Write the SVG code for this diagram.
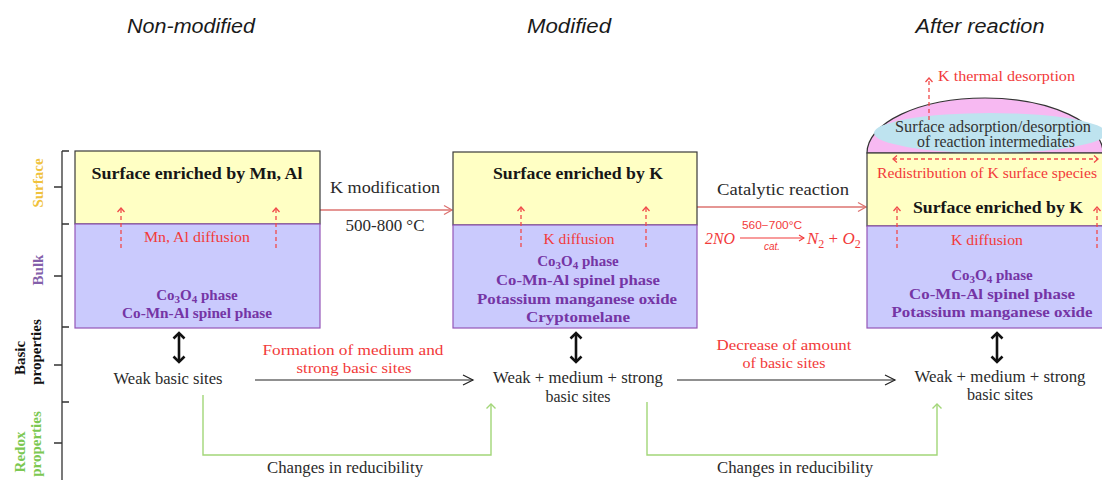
<svg xmlns="http://www.w3.org/2000/svg" width="1102" height="480" viewBox="0 0 1102 480">
  <style>
    .serif { font-family: "Liberation Serif", "DejaVu Serif", serif; }
    .title { font-family: "Liberation Sans", "Open Sans", sans-serif; font-style: italic; font-size: 20px; fill: #1a1a1a; }
    .head { font-weight: bold; font-size: 17px; fill: #161616; }
    .phase { font-weight: bold; font-size: 15px; fill: #7535A5; }
    .red { fill: #F23A3A; font-size: 15px; }
    .txt { fill: #2a2a2a; font-size: 16px; }
    .surf { fill: #FFFFC4; stroke: #3a3a3a; stroke-width: 1.2; }
    .bulk { fill: #CACAFD; stroke: #9455B8; stroke-width: 1.2; }
    .dash { stroke: #F04A4A; stroke-width: 1.3; stroke-dasharray: 4 3; fill: none; }
    .flow { stroke: #DC7370; stroke-width: 1.3; fill: none; }
    .thin { stroke: #222; stroke-width: 1.2; fill: none; }
    .bold { stroke: #111; stroke-width: 2.6; fill: none; }
    .green { stroke: #A2D678; stroke-width: 1.4; fill: none; }
    .axis { stroke: #333; stroke-width: 1.3; fill: none; }
    .side { font-size: 15px; font-weight: bold; }
  </style>
  <defs>
    <marker id="mDash" markerUnits="userSpaceOnUse" markerWidth="10" markerHeight="10" refX="5" refY="5" orient="auto-start-reverse" viewBox="0 0 10 10">
      <path d="M1,1.5 L5,5 L1,8.5" fill="none" stroke="#F04A4A" stroke-width="1.3"/>
    </marker>
    <marker id="mFlow" markerUnits="userSpaceOnUse" markerWidth="12" markerHeight="12" refX="10" refY="6" orient="auto" viewBox="0 0 12 12">
      <path d="M2,1.5 L10,6 L2,10.5" fill="none" stroke="#DC7370" stroke-width="1.3"/>
    </marker>
    <marker id="mEq" markerUnits="userSpaceOnUse" markerWidth="8" markerHeight="8" refX="7" refY="4" orient="auto" viewBox="0 0 8 8">
      <path d="M2,1 L7,4 L2,7" fill="none" stroke="#F23A3A" stroke-width="1.1"/>
    </marker>
    <marker id="mThin" markerUnits="userSpaceOnUse" markerWidth="14" markerHeight="14" refX="12" refY="7" orient="auto" viewBox="0 0 14 14">
      <path d="M2,2 L12,7 L2,12" fill="none" stroke="#222" stroke-width="1.2"/>
    </marker>
    <marker id="mGreen" markerUnits="userSpaceOnUse" markerWidth="12" markerHeight="12" refX="6" refY="6" orient="auto" viewBox="0 0 12 12">
      <path d="M1.5,1.5 L6,6 L1.5,10.5" fill="none" stroke="#A2D678" stroke-width="1.4"/>
    </marker>
    <marker id="mBold" markerUnits="userSpaceOnUse" markerWidth="14" markerHeight="14" refX="7" refY="7" orient="auto-start-reverse" viewBox="0 0 14 14">
      <path d="M1.5,1.5 L7,7 L1.5,12.5" fill="none" stroke="#111" stroke-width="2.6"/>
    </marker>
  </defs>

  <!-- column titles -->
  <g id="titles">
    <text class="title" x="191" y="33" text-anchor="middle" textLength="128" lengthAdjust="spacingAndGlyphs">Non-modified</text>
    <text class="title" x="569" y="33" text-anchor="middle" textLength="84" lengthAdjust="spacingAndGlyphs">Modified</text>
    <text class="title" x="980" y="33" text-anchor="middle" textLength="129" lengthAdjust="spacingAndGlyphs">After reaction</text>
  </g>

  <!-- side scale with row labels -->
  <g id="axis">
    <path class="axis" d="M62,151 V480 M62,151 H69 M62,224 H69 M62,327 H69 M62,402 H69 M54,187 H62 M54,276 H62 M54,365 H62 M54,443 H62"/>
    <g class="serif">
      <text class="side" transform="translate(43,183) rotate(-90)" text-anchor="middle" fill="#F0C23C">Surface</text>
      <text class="side" transform="translate(43,270) rotate(-90)" text-anchor="middle" fill="#8460AA">Bulk</text>
      <text class="side" transform="translate(25,358) rotate(-90)" text-anchor="middle" fill="#111">Basic</text>
      <text class="side" transform="translate(41,352) rotate(-90)" text-anchor="middle" fill="#111">properties</text>
      <text class="side" transform="translate(25,452) rotate(-90)" text-anchor="middle" fill="#7CC852">Redox</text>
      <text class="side" transform="translate(41,444) rotate(-90)" text-anchor="middle" fill="#7CC852">properties</text>
    </g>
  </g>

  <!-- connectors -->
  <g id="connectors">
    <line class="flow" x1="320" y1="210" x2="452" y2="210" marker-end="url(#mFlow)"/>
    <line class="flow" x1="697" y1="207" x2="866" y2="207" marker-end="url(#mFlow)"/>
    <line class="thin" x1="255" y1="380" x2="473" y2="380" marker-end="url(#mThin)"/>
    <line class="thin" x1="677" y1="380" x2="895" y2="380" marker-end="url(#mThin)"/>
    <line class="bold" x1="179" y1="333" x2="179" y2="362" marker-start="url(#mBold)" marker-end="url(#mBold)"/>
    <line class="bold" x1="576" y1="333" x2="576" y2="362" marker-start="url(#mBold)" marker-end="url(#mBold)"/>
    <line class="bold" x1="997" y1="333" x2="997" y2="362" marker-start="url(#mBold)" marker-end="url(#mBold)"/>
    <polyline class="green" points="203,395 203,455 491,455 491,404" marker-end="url(#mGreen)"/>
    <polyline class="green" points="647,402 647,455 937,455 937,404" marker-end="url(#mGreen)"/>
  </g>

  <!-- connector labels -->
  <g id="connector-labels" class="serif">
    <text class="txt" x="385" y="193" text-anchor="middle" textLength="110" lengthAdjust="spacingAndGlyphs">K modification</text>
    <text class="txt" x="385" y="231" text-anchor="middle" textLength="79" lengthAdjust="spacingAndGlyphs">500-800 °C</text>
    <text class="txt" x="783" y="195" text-anchor="middle" textLength="132" lengthAdjust="spacingAndGlyphs">Catalytic reaction</text>
    <text class="red" x="353" y="355" text-anchor="middle" textLength="181" lengthAdjust="spacingAndGlyphs">Formation of medium and</text>
    <text class="red" x="354" y="373" text-anchor="middle" textLength="115" lengthAdjust="spacingAndGlyphs">strong basic sites</text>
    <text class="red" x="784" y="350" text-anchor="middle" textLength="135" lengthAdjust="spacingAndGlyphs">Decrease  of amount</text>
    <text class="red" x="784" y="368" text-anchor="middle" textLength="83" lengthAdjust="spacingAndGlyphs">of basic sites</text>
    <text class="txt" x="345" y="473" text-anchor="middle" textLength="156" lengthAdjust="spacingAndGlyphs">Changes in reducibility</text>
    <text class="txt" x="795" y="473" text-anchor="middle" textLength="156" lengthAdjust="spacingAndGlyphs">Changes in reducibility</text>
  </g>

  <!-- reaction equation -->
  <g id="equation" class="serif" fill="#F23A3A">
    <text x="705" y="244" font-size="17" font-style="italic" textLength="30" lengthAdjust="spacingAndGlyphs">2NO</text>
    <line x1="740" y1="238" x2="804" y2="238" stroke="#F23A3A" stroke-width="1.1" marker-end="url(#mEq)"/>
    <text x="772" y="229" font-size="10" text-anchor="middle" font-family="Liberation Sans, sans-serif" textLength="60" lengthAdjust="spacingAndGlyphs">560−700°C</text>
    <text x="772" y="250" font-size="10" text-anchor="middle" font-style="italic" font-family="Liberation Sans, sans-serif">cat.</text>
    <text x="807" y="244" font-size="17" font-style="italic">N<tspan font-size="12" font-style="normal" dy="4">2</tspan><tspan dy="-4" font-style="normal"> + </tspan>O<tspan font-size="12" font-style="normal" dy="4">2</tspan></text>
  </g>

  <!-- non-modified catalyst -->
  <g id="node-nonmodified" class="serif">
    <rect class="surf" x="75" y="151" width="245" height="73"/>
    <rect class="bulk" x="75" y="224" width="245" height="104"/>
    <text class="head" x="197" y="179" text-anchor="middle" textLength="211" lengthAdjust="spacingAndGlyphs">Surface enriched  by Mn, Al</text>
    <line class="dash" x1="121" y1="248" x2="121" y2="208" marker-end="url(#mDash)"/>
    <line class="dash" x1="276" y1="248" x2="276" y2="208" marker-end="url(#mDash)"/>
    <text class="red" x="197" y="242" text-anchor="middle" textLength="106" lengthAdjust="spacingAndGlyphs">Mn, Al diffusion</text>
    <text class="phase" x="197" y="300" text-anchor="middle">Co<tspan font-size="11" dy="3">3</tspan><tspan dy="-3">O</tspan><tspan font-size="11" dy="3">4</tspan><tspan dy="-3"> phase</tspan></text>
    <text class="phase" x="197" y="318" text-anchor="middle" textLength="150" lengthAdjust="spacingAndGlyphs">Co-Mn-Al spinel phase</text>
  </g>
  <g id="node-nonmodified-sites" class="serif">
    <text class="txt" x="168" y="384" text-anchor="middle" textLength="109" lengthAdjust="spacingAndGlyphs">Weak basic sites</text>
  </g>

  <!-- modified catalyst -->
  <g id="node-modified" class="serif">
    <rect class="surf" x="453" y="152" width="244" height="73"/>
    <rect class="bulk" x="453" y="225" width="244" height="103"/>
    <text class="head" x="578" y="179" text-anchor="middle" textLength="170" lengthAdjust="spacingAndGlyphs">Surface enriched  by K</text>
    <line class="dash" x1="521" y1="247" x2="521" y2="207" marker-end="url(#mDash)"/>
    <line class="dash" x1="646" y1="247" x2="646" y2="207" marker-end="url(#mDash)"/>
    <text class="red" x="579" y="244" text-anchor="middle" textLength="71" lengthAdjust="spacingAndGlyphs">K diffusion</text>
    <text class="phase" x="578" y="266" text-anchor="middle">Co<tspan font-size="11" dy="3">3</tspan><tspan dy="-3">O</tspan><tspan font-size="11" dy="3">4</tspan><tspan dy="-3"> phase</tspan></text>
    <text class="phase" x="578" y="285" text-anchor="middle" textLength="164" lengthAdjust="spacingAndGlyphs">Co-Mn-Al spinel phase</text>
    <text class="phase" x="577" y="304" text-anchor="middle" textLength="200" lengthAdjust="spacingAndGlyphs">Potassium manganese oxide</text>
    <text class="phase" x="578" y="322" text-anchor="middle" textLength="104" lengthAdjust="spacingAndGlyphs">Cryptomelane</text>
  </g>
  <g id="node-modified-sites" class="serif">
    <text class="txt" x="578" y="383" text-anchor="middle" textLength="170" lengthAdjust="spacingAndGlyphs">Weak + medium  + strong</text>
    <text class="txt" x="578" y="402" text-anchor="middle" textLength="65" lengthAdjust="spacingAndGlyphs">basic sites</text>
  </g>

  <!-- catalyst after reaction -->
  <g id="node-after" class="serif">
    <path d="M867,153 A118,55 0 0 1 1103,153 Z" fill="#F7B9F2" stroke="#333" stroke-width="1.2"/>
    <ellipse cx="990" cy="133" rx="116" ry="20" fill="#BEE3EF"/>
    <rect class="surf" x="867" y="153" width="240" height="73"/>
    <rect class="bulk" x="867" y="226" width="240" height="102"/>
    <text x="993" y="132" text-anchor="middle" font-size="16" fill="#333" textLength="196" lengthAdjust="spacingAndGlyphs">Surface adsorption/desorption</text>
    <text x="996" y="147" text-anchor="middle" font-size="16" fill="#333" textLength="158" lengthAdjust="spacingAndGlyphs">of reaction intermediates</text>
    <line class="dash" x1="929" y1="120" x2="929" y2="78" marker-end="url(#mDash)"/>
    <text class="red" x="938" y="81" textLength="137" lengthAdjust="spacingAndGlyphs">K thermal desorption</text>
    <line class="dash" x1="893" y1="159" x2="1098" y2="159" marker-start="url(#mDash)" marker-end="url(#mDash)"/>
    <text class="red" x="987" y="178" text-anchor="middle" textLength="220" lengthAdjust="spacingAndGlyphs">Redistribution of K surface species</text>
    <text class="head" x="998" y="213" text-anchor="middle" textLength="170" lengthAdjust="spacingAndGlyphs">Surface enriched  by K</text>
    <line class="dash" x1="897" y1="248" x2="897" y2="207" marker-end="url(#mDash)"/>
    <line class="dash" x1="1097" y1="248" x2="1097" y2="207" marker-end="url(#mDash)"/>
    <text class="red" x="987" y="245" text-anchor="middle" textLength="72" lengthAdjust="spacingAndGlyphs">K diffusion</text>
    <text class="phase" x="992" y="280" text-anchor="middle">Co<tspan font-size="11" dy="3">3</tspan><tspan dy="-3">O</tspan><tspan font-size="11" dy="3">4</tspan><tspan dy="-3"> phase</tspan></text>
    <text class="phase" x="992" y="299" text-anchor="middle" textLength="166" lengthAdjust="spacingAndGlyphs">Co-Mn-Al spinel phase</text>
    <text class="phase" x="992" y="317" text-anchor="middle" textLength="201" lengthAdjust="spacingAndGlyphs">Potassium manganese oxide</text>
  </g>
  <g id="node-after-sites" class="serif">
    <text class="txt" x="1000" y="382" text-anchor="middle" textLength="171" lengthAdjust="spacingAndGlyphs">Weak + medium  + strong</text>
    <text class="txt" x="1000" y="400" text-anchor="middle" textLength="66" lengthAdjust="spacingAndGlyphs">basic sites</text>
  </g>
</svg>
